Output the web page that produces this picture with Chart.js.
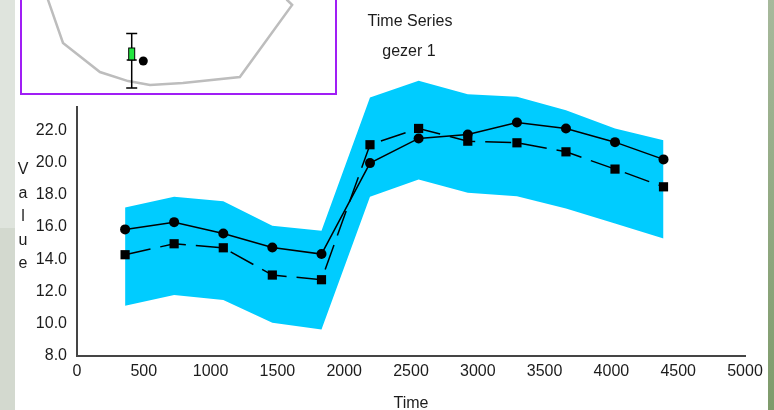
<!DOCTYPE html>
<html>
<head>
<meta charset="utf-8">
<script src="https://cdn.jsdelivr.net/npm/chart.js@4.4.0/dist/chart.umd.min.js"></script>
<style>
  html, body { margin: 0; padding: 0; }
  body { width: 774px; height: 410px; position: relative; overflow: hidden; background: #fff; }
  #leftStrip { position: absolute; left: 0; top: 0; width: 15px; height: 410px;
    background: linear-gradient(#dfe4dd 0, #dfe4dd 228px, #d3d9cf 228px); }
  #rightStrip { position: absolute; left: 768px; top: 0; width: 6px; height: 410px;
    background: linear-gradient(#a7b99c, #7e9b6b); }
  #main { position: absolute; left: 0; top: 0; }
  #insetBox { position: absolute; left: 20px; top: -60px; width: 317px; height: 155px;
    box-sizing: border-box; border: 2px solid #a01ef5; background: #fff; }
  #inset { display: block; }
</style>
</head>
<body>
<div id="leftStrip"></div>
<div id="rightStrip"></div>
<canvas id="main" width="774" height="410"></canvas>
<div id="insetBox"><canvas id="inset" width="313" height="151"></canvas></div>

<script>
// --- data ---
const times = [360, 727, 1095, 1462, 1830, 2193, 2557, 2925, 3293, 3660, 4027, 4390];
const circleSeries = [15.85, 16.30, 15.60, 14.73, 14.32, 19.96, 21.49, 21.74, 22.48, 22.11, 21.26, 20.19];
const squareSeries = [14.28, 14.96, 14.71, 13.02, 12.73, 21.10, 22.11, 21.32, 21.22, 20.66, 19.59, 18.49];
const bandUpper = [17.21, 17.87, 17.60, 16.07, 15.76, 24.03, 25.06, 24.23, 24.07, 23.24, 22.11, 21.38];
const bandLower = [11.12, 11.78, 11.47, 10.06, 9.65, 17.87, 18.95, 18.12, 17.91, 17.15, 16.22, 15.29];

const xTickValues = [0, 500, 1000, 1500, 2000, 2500, 3000, 3500, 4000, 4500, 5000];
const yTickValues = [8, 10, 12, 14, 16, 18, 20, 22];

const titleText = 'Time Series';
const subtitleText = 'gezer 1';
const xTitle = 'Time';
const yTitle = 'Value';

// inset (small overview plot)
const insetOutlineX = [4.15, 8.31, 13.1, 24.9, 33.9, 40.9, 51.4, 69.6, 86.3, 84.7, 83.1];
const insetOutlineY = [88.1, 61.6, 33.1, 13.9, 7.9, 5.3, 6.6, 10.6, 58.3, 61.6, 74.8];
const insetBar = { x: 35.05, low: 3.3, high: 39.4, boxLow: 21.9, boxHigh: 29.8 };
const insetDot = { x: 38.75, y: 21.2 };

const textColor = '#1c1c1c';
const axisColor = '#454545';
const fontFamily = '"Liberation Sans", Arial, sans-serif';

const pts = arr => times.map((t, i) => ({ x: t, y: arr[i] }));

const captions = {
    id: 'captions',
    afterDraw(chart) {
        const { ctx, chartArea, scales } = chart;
        ctx.save();
        // y axis line only up to 23.5, band is allowed to run above it
        ctx.strokeStyle = axisColor;
        ctx.lineWidth = 2;
        ctx.beginPath();
        ctx.moveTo(chartArea.left, chartArea.bottom + 1);
        ctx.lineTo(chartArea.left, scales.y.getPixelForValue(23.5));
        ctx.stroke();

        ctx.fillStyle = textColor;
        ctx.font = '16px ' + fontFamily;
        ctx.textAlign = 'center';
        ctx.textBaseline = 'alphabetic';
        ctx.fillText(titleText, 410, 26);
        ctx.fillText(subtitleText, 409, 56);
        ctx.fillText(xTitle, (chartArea.left + chartArea.right) / 2, 408);
        yTitle.split('').forEach((ch, i) => ctx.fillText(ch, 23, 174 + i * 23.6));
        ctx.restore();
    }
};

new Chart(document.getElementById('main'), {
    type: 'scatter',
    data: {
        datasets: [
            {
                data: pts(bandLower), showLine: true, pointRadius: 0,
                borderColor: 'transparent', borderWidth: 0, fill: false, order: 2, clip: false
            },
            {
                data: pts(bandUpper), showLine: true, pointRadius: 0,
                borderColor: 'transparent', borderWidth: 0,
                backgroundColor: '#00ccff', fill: '-1', order: 2, clip: false
            },
            {
                data: pts(circleSeries), showLine: true, borderColor: '#000', borderWidth: 1.5,
                pointStyle: 'circle', pointRadius: 5, backgroundColor: '#000', pointBorderWidth: 0,
                order: 1
            },
            {
                data: pts(squareSeries), showLine: true, borderColor: '#000', borderWidth: 1.5,
                borderDash: [26, 10],
                pointStyle: 'rect', pointRadius: 6.5, backgroundColor: '#000', pointBorderWidth: 0,
                order: 1
            }
        ]
    },
    options: {
        responsive: false,
        animation: false,
        layout: { padding: { left: 0, top: 77, right: 29, bottom: 0 } },
        plugins: { legend: { display: false }, tooltip: { enabled: false } },
        scales: {
            x: {
                type: 'linear', min: 0, max: 5000,
                grid: { display: false, drawTicks: false },
                border: { display: true, color: axisColor, width: 2 },
                afterBuildTicks: s => { s.ticks = xTickValues.map(v => ({ value: v })); },
                afterFit: s => { s.height = 54; },
                ticks: {
                    autoSkip: false, maxRotation: 0, padding: 6, color: textColor,
                    font: { family: fontFamily, size: 16 },
                    callback: v => String(v)
                }
            },
            y: {
                type: 'linear', min: 8, max: 25.3,
                grid: { display: false, drawTicks: false },
                border: { display: false },
                afterBuildTicks: s => { s.ticks = yTickValues.map(v => ({ value: v })); },
                afterFit: s => { s.width = 77; },
                ticks: {
                    padding: 10, color: textColor,
                    font: { family: fontFamily, size: 16 },
                    callback: v => Number(v).toFixed(1)
                }
            }
        }
    },
    plugins: [captions]
});

// --- inset ---
const errorBar = {
    id: 'errorBar',
    afterDatasetsDraw(chart) {
        const { ctx, scales } = chart;
        const x = scales.x.getPixelForValue(insetBar.x);
        const yLow = scales.y.getPixelForValue(insetBar.low);
        const yHigh = scales.y.getPixelForValue(insetBar.high);
        const bLow = scales.y.getPixelForValue(insetBar.boxLow);
        const bHigh = scales.y.getPixelForValue(insetBar.boxHigh);
        ctx.save();
        ctx.strokeStyle = '#000';
        ctx.lineWidth = 1.5;
        ctx.beginPath();
        ctx.moveTo(x, yLow); ctx.lineTo(x, yHigh);
        ctx.moveTo(x - 5.5, yLow); ctx.lineTo(x + 5.5, yLow);
        ctx.moveTo(x - 5.5, yHigh); ctx.lineTo(x + 5.5, yHigh);
        ctx.moveTo(x - 5, bLow); ctx.lineTo(x + 5, bLow);
        ctx.stroke();
        ctx.fillStyle = '#22e640';
        ctx.fillRect(x - 3, bHigh, 6, bLow - bHigh);
        ctx.lineWidth = 1;
        ctx.strokeRect(x - 3, bHigh, 6, bLow - bHigh);
        ctx.restore();
    }
};

new Chart(document.getElementById('inset'), {
    type: 'scatter',
    data: {
        datasets: [
            {
                data: insetOutlineX.map((x, i) => ({ x: x, y: insetOutlineY[i] })),
                showLine: true, pointRadius: 0, borderColor: '#bdbdbd', borderWidth: 2.5
            },
            {
                data: [insetDot], pointRadius: 4.5, backgroundColor: '#000', pointBorderWidth: 0
            }
        ]
    },
    options: {
        responsive: false,
        animation: false,
        layout: { padding: 0, autoPadding: false },
        plugins: { legend: { display: false }, tooltip: { enabled: false } },
        scales: {
            x: { type: 'linear', display: false, min: 0, max: 100 },
            y: { type: 'linear', display: false, min: 0, max: 100 }
        }
    },
    plugins: [errorBar]
});
</script>
</body>
</html>
